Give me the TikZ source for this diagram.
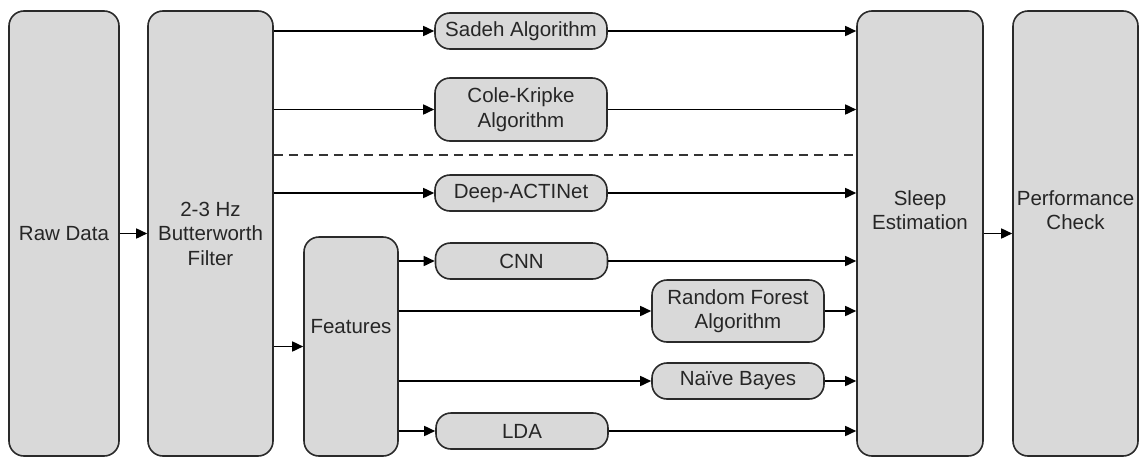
\documentclass[tikz,border=0pt]{standalone}
\usepackage{fontspec}
\setmainfont{Liberation Sans}
\usetikzlibrary{arrows.meta}
\definecolor{boxfill}{HTML}{D9D9D9}
\definecolor{boxline}{HTML}{2A2A2A}
\definecolor{txt}{HTML}{262626}
\begin{document}
\begin{tikzpicture}[x=1pt,y=-1pt,
  font=\fontsize{20.5}{24.5}\selectfont,
  every node/.style={text=txt},
  bigbox/.style={draw=boxline, fill=boxfill, line width=1.6pt, rounded corners=15pt,
    minimum height=445pt, inner sep=2pt, align=center},
  algbox/.style={draw=boxline, fill=boxfill, line width=1.6pt, rounded corners=15pt,
    minimum width=172pt, inner sep=2pt, align=center},
  lbl/.style={align=center, text=txt, inner sep=0pt},
  conn/.style={draw=black, line width=1.6pt, -{Triangle[length=11pt,width=10pt]}},
  plain/.style={draw=black, line width=1.6pt},
  dashline/.style={draw=black!80, line width=1.3pt, dash pattern=on 9pt off 6pt}]
\useasboundingbox (0,0) rectangle (1142,458);

% main boxes
\node[bigbox, minimum width=110pt] (raw) at (64,233.5) {Raw Data};
\node[bigbox, minimum width=125pt] (butter) at (210.5,233.5) {2-3 Hz\\Butterworth\\Filter};
\node[bigbox, minimum width=94pt, minimum height=219pt,
  label={[lbl, yshift=19.5pt]center:Features}] (feat) at (351,346.5) {};
\node[bigbox, minimum width=126pt,
  label={[lbl, yshift=23.5pt]center:Sleep\\Estimation}] (sleep) at (920,233.5) {};
\node[bigbox, minimum width=125pt,
  label={[lbl, yshift=23.5pt]center:Performance\\Check}] (perf) at (1075.5,233.5) {};

% algorithm boxes
\node[algbox, minimum height=36pt] (sadeh) at (521,31) {Sadeh Algorithm};
\node[algbox, minimum height=63pt] (cole) at (521,109.5) {Cole-Kripke\\Algorithm};
\node[algbox, minimum height=36pt] (deep) at (521,193) {Deep-ACTINet};
\node[algbox, minimum height=36pt] (cnn) at (521.5,261) {CNN};
\node[algbox, minimum height=62pt] (rf) at (738,311) {Random Forest\\Algorithm};
\node[algbox, minimum height=36pt] (nb) at (738,381) {Naïve Bayes};
\node[algbox, minimum height=36pt] (lda) at (522,431) {LDA};

\coordinate (dash) at (0,155);

% connectors
\draw[conn] (raw.east) -- (butter.west);
\draw[conn] (butter.east |- sadeh.west) -- (sadeh.west);
\draw[conn] (butter.east |- cole.west) -- (cole.west);
\draw[conn] (butter.east |- deep.west) -- (deep.west);
\draw[dashline] (butter.east |- dash) -- (sleep.west |- dash);
\draw[conn] (butter.east |- feat.west) -- (feat.west);

\draw[conn] (feat.east |- cnn.west) -- (cnn.west);
\draw[conn] (feat.east |- rf.west) -- (rf.west);
\draw[conn] (feat.east |- nb.west) -- (nb.west);
\draw[conn] (feat.east |- lda.west) -- (lda.west);

\draw[conn] (sadeh.east) -- (sleep.west |- sadeh.east);
\draw[conn] (cole.east) -- (sleep.west |- cole.east);
\draw[conn] (deep.east) -- (sleep.west |- deep.east);
\draw[conn] (cnn.east) -- (sleep.west |- cnn.east);
\draw[conn] (rf.east) -- (sleep.west |- rf.east);
\draw[conn] (nb.east) -- (sleep.west |- nb.east);
\draw[conn] (lda.east) -- (sleep.west |- lda.east);

\draw[conn] (sleep.east) -- (perf.west);
\end{tikzpicture}
\end{document}
